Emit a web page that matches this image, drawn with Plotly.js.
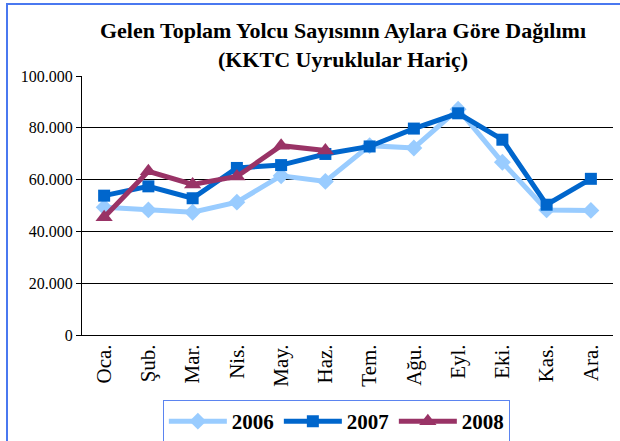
<!DOCTYPE html>
<html>
<head>
<meta charset="utf-8">
<script src="https://cdn.plot.ly/plotly-3.0.1.min.js"></script>
<style>
  html, body { margin: 0; padding: 0; background: #fff; }
  #chart { width: 620px; height: 441px; }
</style>
</head>
<body>
<div id="chart"></div>
<script>
const months = ['Oca.', 'Şub.', 'Mar.', 'Nis.', 'May.', 'Haz.', 'Tem.', 'Ağu.', 'Eyl.', 'Eki.', 'Kas.', 'Ara.'];
const v2006 = [49300, 48300, 47400, 51300, 61500, 59300, 73100, 72200, 87200, 66700, 48300, 48100];
const v2007 = [53800, 57400, 52800, 64500, 65600, 69900, 72800, 79700, 85600, 75400, 50300, 60300];
const v2008 = [45500, 63200, 58100, 61200, 73100, 71200];
const seriesNames = ['2006', '2007', '2008'];

const serif = '"Liberation Serif", "Times New Roman", Times, serif';

const traces = [
  {
    x: months, y: v2006, name: '<b>' + seriesNames[0] + '</b>', type: 'scatter', mode: 'lines+markers',
    line: { color: '#99CCFF', width: 5 },
    marker: { symbol: 'diamond', size: 13, color: '#99CCFF' }
  },
  {
    x: months, y: v2007, name: '<b>' + seriesNames[1] + '</b>', type: 'scatter', mode: 'lines+markers',
    line: { color: '#0066CC', width: 5 },
    marker: { symbol: 'square', size: 12, color: '#0066CC' }
  },
  {
    x: months.slice(0, v2008.length), y: v2008, name: '<b>' + seriesNames[2] + '</b>', type: 'scatter', mode: 'lines+markers',
    line: { color: '#993366', width: 5 },
    marker: { symbol: 'triangle-up', size: 15, color: '#993366' }
  }
];

const layout = {
  width: 620, height: 441,
  margin: { l: 82, r: 7, t: 76, b: 106, pad: 0, autoexpand: false },
  paper_bgcolor: '#ffffff', plot_bgcolor: '#ffffff',
  separators: ',.',
  showlegend: true,
  font: { family: serif, color: '#000' },
  title: {
    text: '<b>Gelen Toplam Yolcu Sayısının Aylara Göre Dağılımı</b><br><b>(KKTC Uyruklular Hariç)</b>',
    font: { family: serif, size: 22, color: '#000' },
    x: 0.4915, xref: 'paper', xanchor: 'center',
    y: 0.913, yref: 'container', yanchor: 'top'
  },
  xaxis: {
    type: 'category', categoryorder: 'array', categoryarray: months,
    range: [-0.5, 11.5], automargin: false,
    showline: true, linecolor: '#000', linewidth: 1,
    showgrid: false, ticks: '', tickangle: -90,
    tickfont: { family: serif, size: 21, color: '#000' },
    fixedrange: true
  },
  yaxis: {
    range: [0, 100000], dtick: 20000, tick0: 0, tickformat: ',d', automargin: false,
    showline: true, linecolor: '#000', linewidth: 1,
    showgrid: true, gridcolor: '#000', gridwidth: 1,
    zeroline: false,
    ticks: 'outside', ticklen: 5, tickcolor: '#000',
    tickfont: { family: serif, size: 16, color: '#000' },
    fixedrange: true
  },
  legend: {
    orientation: 'h', x: 0.479, xanchor: 'center', y: -0.251, yanchor: 'top',
    bordercolor: '#5B84F0', borderwidth: 1, bgcolor: '#fff',
    font: { family: serif, size: 21, color: '#000' },
    itemwidth: 58, tracegroupgap: 0
  },
  shapes: [
    {
      type: 'rect', xref: 'paper', yref: 'paper',
      x0: (7 - 82) / 531, x1: 1.2, y0: -0.5, y1: (335 - 4) / 259,
      line: { color: '#4A78F0', width: 2 }, fillcolor: 'rgba(0,0,0,0)', layer: 'below'
    }
  ]
};

Plotly.newPlot('chart', traces, layout, { displayModeBar: false, staticPlot: true });
</script>
</body>
</html>
